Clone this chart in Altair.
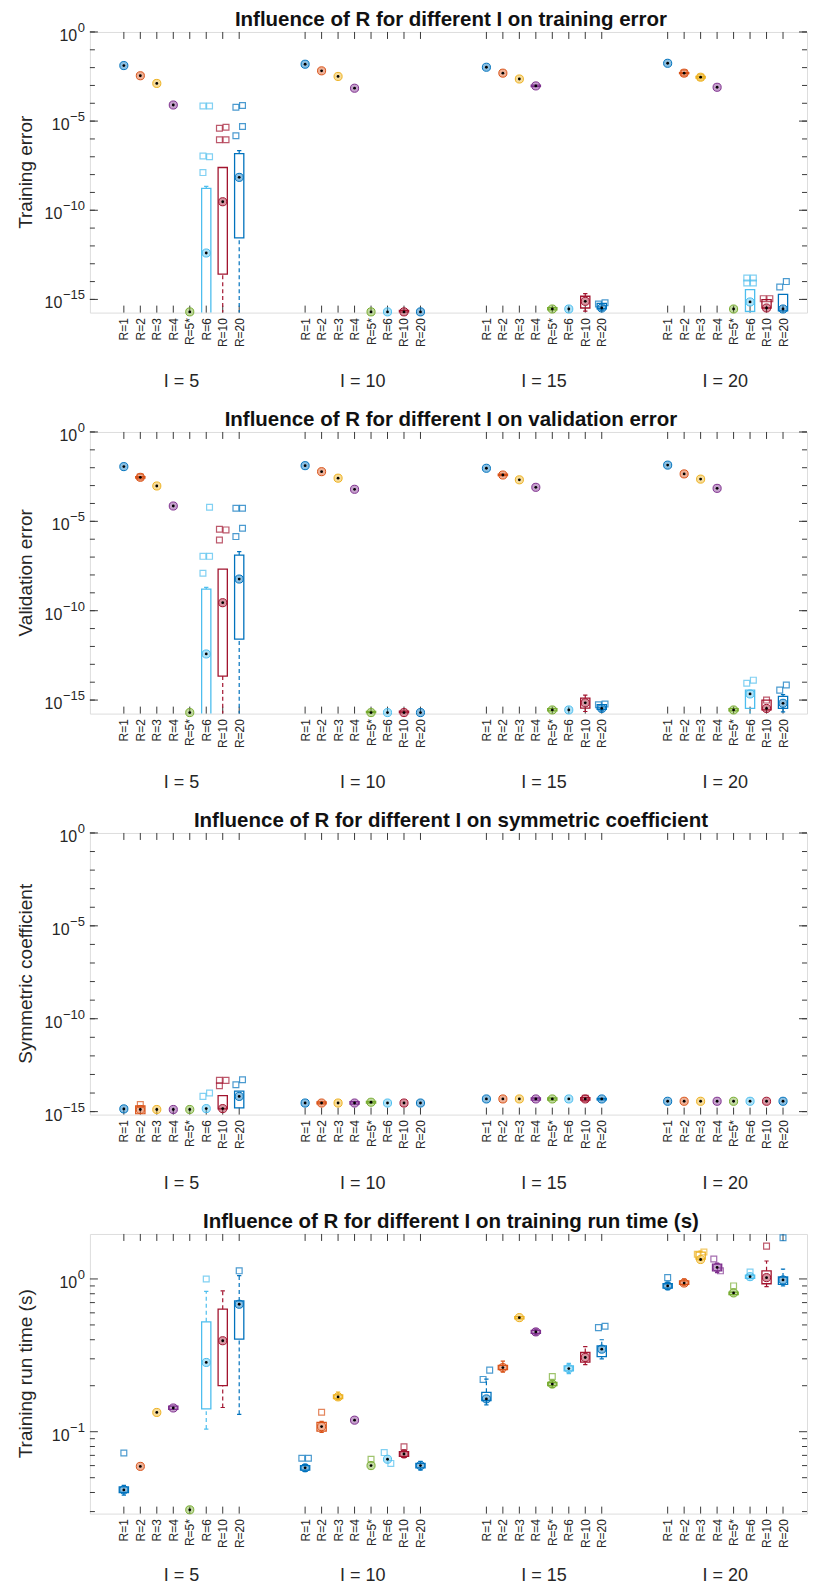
import math
import altair as alt
import pandas as pd

FONT = "Liberation Sans"
TXT = "#262626"
AX = "#3a3a3a"

R_LABELS = ["R=1", "R=2", "R=3", "R=4", "R=5*", "R=6", "R=10", "R=20"]
I_LABELS = ["I = 5", "I = 10", "I = 15", "I = 20"]
COLORS = ["#0072BD", "#D95319", "#EDB120", "#7E2F8E", "#77AC30", "#4DBEEE", "#A2142F", "#0072BD"]
GROUP_STEP = 11

# ---------------- training error ----------------
TRAIN_MED = [
    [1.3e-2, 3.5e-3, 1.3e-3, 8e-5, 2e-16, 4e-13, 3e-10, 7e-9],
    [1.55e-2, 6.6e-3, 3.2e-3, 7e-4, 2e-16, 2e-16, 2e-16, 2e-16],
    [1.05e-2, 4.9e-3, 2.3e-3, 9.4e-4, 2.9e-16, 2.9e-16, 7.8e-16, 3.3e-16],
    [1.75e-2, 4.9e-3, 2.9e-3, 7.9e-4, 2.9e-16, 7.2e-16, 3.3e-16, 2.9e-16],
]
TRAIN_BOX = [  # (group, R index, q1, q3, lower whisker, upper whisker)
    (0, 5, 1e-17, 1.7e-9, 1e-17, 2.2e-9),
    (0, 6, 2.6e-14, 2.5e-8, 1e-17, 2.5e-8),
    (0, 7, 2.8e-12, 1.5e-7, 1e-17, 2.2e-7),
    (1, 6, 1.9e-16, 2.4e-16),
    (2, 3, 8.5e-4, 1.05e-3),
    (2, 4, 2.6e-16, 3.4e-16),
    (2, 6, 3.3e-16, 1.5e-15, 2.2e-16, 2.1e-15),
    (2, 7, 3.0e-16, 6e-16, 2.5e-16, 6e-16),
    (3, 1, 4.6e-3, 5.2e-3),
    (3, 2, 2.6e-3, 3.2e-3),
    (3, 5, 2.1e-16, 3.5e-15, 1e-17, 3.5e-15),
    (3, 6, 3.3e-16, 9.8e-16),
    (3, 7, 2.3e-16, 1.9e-15),
]
TRAIN_OUT = [
    (0, 5, [1.3e-8, 1e-7, 1.1e-7, 7e-5, 7e-5]),
    (0, 6, [9e-7, 9e-7, 4e-6, 4.5e-6]),
    (0, 7, [1.5e-6, 5e-6, 6e-5, 7.5e-5]),
    (2, 7, [5.5e-16, 6.5e-16]),
    (3, 1, [5.0e-3]),
    (3, 2, [2.9e-3]),
    (3, 5, [8.3e-15, 8.3e-15, 1.6e-14, 1.6e-14]),
    (3, 6, [1.1e-15, 1.1e-15]),
    (3, 7, [5e-15, 1e-14]),
]

# ---------------- validation error ----------------
VALID_MED = [
    [1.15e-2, 2.9e-3, 9.5e-4, 7.2e-5, 2e-16, 3.8e-13, 2.8e-10, 5.9e-9],
    [1.3e-2, 6e-3, 2.6e-3, 6.2e-4, 2e-16, 2e-16, 2e-16, 2e-16],
    [9.3e-3, 3.9e-3, 2.1e-3, 8e-4, 2.8e-16, 2.8e-16, 7e-16, 3.4e-16],
    [1.4e-2, 4.5e-3, 2.3e-3, 7e-4, 2.8e-16, 2.2e-15, 3.4e-16, 6.6e-16],
]
VALID_BOX = [
    (0, 1, 2.6e-3, 3.2e-3),
    (0, 5, 1e-17, 1.6e-9, 1e-17, 2e-9),
    (0, 6, 2.2e-14, 2.1e-8, 1e-17, 2.1e-8),
    (0, 7, 2.6e-12, 1.3e-7, 1e-17, 2e-7),
    (1, 4, 1.9e-16, 2.3e-16),
    (1, 6, 1.9e-16, 2.4e-16),
    (2, 1, 3.6e-3, 4.3e-3),
    (2, 4, 2.5e-16, 3.3e-16),
    (2, 6, 3.5e-16, 1.3e-15, 2.3e-16, 1.9e-15),
    (2, 7, 3e-16, 5.5e-16, 2.5e-16, 5.5e-16),
    (3, 4, 2.5e-16, 3.3e-16),
    (3, 5, 3.4e-16, 3.6e-15, 1e-17, 3.6e-15),
    (3, 6, 2.8e-16, 1e-15),
    (3, 7, 3.4e-16, 1.6e-15, 2.2e-16, 2e-15),
]
VALID_OUT = [
    (0, 1, [3.0e-3]),
    (0, 5, [1.25e-8, 1.1e-7, 1.1e-7, 6.1e-5]),
    (0, 6, [9e-7, 3.3e-6, 3.6e-6]),
    (0, 7, [1.4e-6, 4.1e-6, 5.4e-5, 5.4e-5]),
    (2, 7, [5.5e-16, 6e-16]),
    (3, 5, [8.7e-15, 1.3e-14]),
    (3, 6, [1e-15]),
    (3, 7, [3.6e-15, 7e-15]),
]

# ---------------- symmetric coefficient ----------------
SYM_MED = [
    [1.4e-15, 1.3e-15, 1.3e-15, 1.3e-15, 1.3e-15, 1.45e-15, 1.45e-15, 6.6e-15],
    [2.9e-15, 2.9e-15, 2.9e-15, 2.9e-15, 3.2e-15, 2.9e-15, 2.9e-15, 2.9e-15],
    [4.8e-15, 4.8e-15, 4.8e-15, 4.8e-15, 4.8e-15, 4.8e-15, 4.8e-15, 4.8e-15],
    [3.6e-15, 3.6e-15, 3.6e-15, 3.6e-15, 3.6e-15, 3.6e-15, 3.6e-15, 3.6e-15],
]
SYM_BOX = [
    (0, 1, 7.5e-16, 2e-15),
    (0, 6, 1.4e-15, 7.2e-15),
    (0, 7, 1.6e-15, 1.26e-14),
    (1, 1, 2.6e-15, 3.3e-15),
    (1, 3, 2.5e-15, 3.4e-15),
    (1, 4, 2.9e-15, 3.6e-15),
    (2, 3, 4.2e-15, 5.4e-15),
    (2, 4, 4.2e-15, 5.4e-15),
    (2, 6, 4.2e-15, 5.6e-15),
    (2, 7, 4.3e-15, 5.2e-15),
]
SYM_OUT = [
    (0, 1, [2.4e-15]),
    (0, 5, [6.6e-15, 1e-14]),
    (0, 6, [2.5e-14, 4.8e-14, 4.8e-14]),
    (0, 7, [2.8e-14, 5.2e-14]),
    (2, 6, [5.2e-15]),
]

# ---------------- training run time ----------------
TIME_MED = [
    [0.0416, 0.0593, 0.1337, 0.143, 0.0308, 0.284, 0.394, 0.683],
    [0.058, 0.108, 0.169, 0.119, 0.060, 0.066, 0.0715, 0.060],
    [0.164, 0.263, 0.558, 0.45, 0.205, 0.259, 0.306, 0.347],
    [0.90, 0.94, 1.34, 1.19, 0.81, 1.035, 1.02, 0.985],
]
TIME_BOX = [
    (0, 0, 0.0400, 0.0435, 0.0385, 0.0445),
    (0, 3, 0.140, 0.147),
    (0, 5, 0.141, 0.524, 0.104, 0.83),
    (0, 6, 0.2, 0.634, 0.144, 0.835),
    (0, 7, 0.404, 0.718, 0.13, 1.05),
    (1, 0, 0.056, 0.060, 0.055, 0.061),
    (1, 1, 0.101, 0.115, 0.099, 0.117),
    (1, 2, 0.165, 0.174, 0.162, 0.182),
    (1, 6, 0.069, 0.074, 0.068, 0.075),
    (1, 7, 0.058, 0.062, 0.056, 0.064),
    (2, 0, 0.160, 0.181, 0.150, 0.221),
    (2, 1, 0.255, 0.272, 0.245, 0.290),
    (2, 2, 0.548, 0.566),
    (2, 3, 0.44, 0.46, 0.43, 0.47),
    (2, 4, 0.2, 0.21, 0.195, 0.215),
    (2, 5, 0.25, 0.27, 0.24, 0.28),
    (2, 6, 0.285, 0.33, 0.275, 0.36),
    (2, 7, 0.31, 0.365, 0.30, 0.40),
    (3, 0, 0.87, 0.93, 0.85, 0.95),
    (3, 1, 0.92, 0.97, 0.91, 1.0),
    (3, 2, 1.35, 1.5, 1.32, 1.52),
    (3, 3, 1.13, 1.25, 1.1, 1.27),
    (3, 4, 0.79, 0.82),
    (3, 5, 1.01, 1.06),
    (3, 6, 0.93, 1.13, 0.89, 1.31),
    (3, 7, 0.92, 1.03, 0.9, 1.16),
]
TIME_OUT = [
    (0, 0, [0.0726]),
    (0, 5, [1.0]),
    (0, 7, [1.13]),
    (1, 0, [0.067, 0.067]),
    (1, 1, [0.134]),
    (1, 4, [0.066]),
    (1, 5, [0.073, 0.062]),
    (1, 6, [0.0797]),
    (2, 0, [0.22, 0.253]),
    (2, 4, [0.23]),
    (2, 7, [0.48, 0.49]),
    (3, 0, [1.02]),
    (3, 2, [1.45, 1.5]),
    (3, 3, [1.35, 1.13]),
    (3, 4, [0.90]),
    (3, 5, [1.11]),
    (3, 6, [1.64]),
    (3, 7, [1.86]),
]

DECADES_15 = [10.0 ** (-k) for k in range(16)]
MINOR_TIME = [0.03, 0.04, 0.05, 0.06, 0.07, 0.08, 0.09, 0.2, 0.3, 0.4, 0.5, 0.6, 0.7, 0.8, 0.9]

W = 718
PX_PER_UNIT = 16.5
X_DOMAIN = [-2.06, -2.06 + W / PX_PER_UNIT]
EXP_FS = 13
BASE_FS = 16
LEFT_EXT = 81      # room left of each plot (labels + axis title)
TOP_EXT = 22       # room above each plot (title)


def exp_text(v):
    e = int(round(math.log10(v)))
    return "0" if e == 0 else "\u2212" + str(-e)


def exp_width(s):
    return sum((0.584 if c == "\u2212" else 0.556) * EXP_FS for c in s)


def build(title, ytitle, med, boxes, outl, ydom, majors, minors, h, glab_off, bot_ext):
    cscale = alt.Scale(domain=R_LABELS, range=COLORS)
    med_rows = [dict(pos=g * GROUP_STEP + r, R=R_LABELS[r], v=med[g][r]) for g in range(4) for r in range(8)]
    box_rows = []
    for b in boxes:
        g, r, q1, q3 = b[:4]
        lo, hi = (b[4], b[5]) if len(b) > 4 else (q1, q3)
        box_rows.append(dict(pos=g * GROUP_STEP + r, R=R_LABELS[r], q1=q1, q3=q3, lo=lo, hi=hi))
    out_rows = []
    for g, r, vals in outl:
        n = len(vals)
        for k, v in enumerate(vals):
            off = 0 if n == 1 else (-0.2 if k % 2 == 0 else 0.2)
            out_rows.append(dict(pos=g * GROUP_STEP + r + off, R=R_LABELS[r], v=v))
    xt = [g * GROUP_STEP + r for g in range(4) for r in range(8)]
    grp = pd.DataFrame({"pos": [g * GROUP_STEP + 3.5 for g in range(4)], "lab": I_LABELS})

    lab_arr = "[" + ",".join("'%s'" % s for s in R_LABELS) + "]"
    xaxis = alt.Axis(values=xt, labelExpr="%s[datum.value %% %d]" % (lab_arr, GROUP_STEP),
                     labelAngle=-90, ticks=False, domain=False, grid=False, labelFontSize=12,
                     labelPadding=5, labelColor=TXT, labelFont=FONT, labelFlush=False,
                     labelOverlap=False)
    xs = alt.Scale(domain=X_DOMAIN, nice=False, zero=False)
    ys = alt.Scale(type="log", domain=ydom, nice=False)

    def X(f):
        return alt.X(f, type="quantitative", scale=xs, axis=xaxis, title=None)

    def Y(f):
        return alt.Y(f, type="quantitative", scale=ys, axis=None)

    col = alt.Color("R:N", scale=cscale, legend=None)

    # white frame that fixes the panel's outer extent
    fr = pd.DataFrame({"a": [0]})
    frame_top = alt.Chart(fr).mark_rule(color="white", strokeWidth=0.5).encode(
        x=alt.value(-LEFT_EXT), x2=alt.value(W - 1), y=alt.value(-TOP_EXT))
    frame_bot = alt.Chart(fr).mark_rule(color="white", strokeWidth=0.5).encode(
        x=alt.value(-LEFT_EXT), x2=alt.value(W - 1), y=alt.value(h + bot_ext))

    bdf = pd.DataFrame(box_rows)
    base_b = alt.Chart(bdf).transform_calculate(
        bl="datum.pos - 0.28", br="datum.pos + 0.28", cl="datum.pos - 0.13", cr="datum.pos + 0.13")

    lower = base_b.transform_filter("datum.lo < datum.q1").mark_rule(
        strokeDash=[4, 3], strokeWidth=1.2, clip=True).encode(x=X("pos"), y=Y("lo"), y2="q1", color=col)
    upper = base_b.transform_filter("datum.hi > datum.q3").mark_rule(
        strokeDash=[4, 3], strokeWidth=1.2, clip=True).encode(x=X("pos"), y=Y("q3"), y2="hi", color=col)
    cap_lo = base_b.transform_filter("datum.lo < datum.q1").mark_rule(strokeWidth=1.2, clip=True).encode(
        x=X("cl"), x2="cr", y=Y("lo"), color=col)
    cap_hi = base_b.transform_filter("datum.hi > datum.q3").mark_rule(strokeWidth=1.2, clip=True).encode(
        x=X("cl"), x2="cr", y=Y("hi"), color=col)
    box = base_b.transform_filter("datum.q3 > datum.q1").mark_rect(
        fillOpacity=0, strokeWidth=1.3, clip=True).encode(
        x=X("bl"), x2="br", y=Y("q1"), y2="q3", stroke=alt.Stroke("R:N", scale=cscale, legend=None))

    out = alt.Chart(pd.DataFrame(out_rows)).mark_point(
        shape="square", filled=False, size=34, strokeWidth=1.2).encode(x=X("pos"), y=Y("v"), color=col)

    mdf = pd.DataFrame(med_rows)
    circ = alt.Chart(mdf).mark_circle(size=66, fillOpacity=0.45, strokeWidth=1, opacity=1).encode(
        x=X("pos"), y=Y("v"), fill=alt.Fill("R:N", scale=cscale, legend=None),
        stroke=alt.Stroke("R:N", scale=cscale, legend=None))
    dot = alt.Chart(mdf).mark_circle(size=8, color="black", opacity=1).encode(x=X("pos"), y=Y("v"))

    tdf = pd.DataFrame({"pos": xt})
    ttop = alt.Chart(tdf).mark_rule(color=AX, strokeWidth=1).encode(x=X("pos"), y=alt.value(0), y2=alt.value(7))
    tbot = alt.Chart(tdf).mark_rule(color=AX, strokeWidth=1).encode(x=X("pos"), y=alt.value(h), y2=alt.value(h - 7))
    majdf = pd.DataFrame({"v": majors})
    mindf = pd.DataFrame({"v": minors})
    lmaj = alt.Chart(majdf).mark_rule(color=AX).encode(y=Y("v"), x=alt.value(0), x2=alt.value(8))
    rmaj = alt.Chart(majdf).mark_rule(color=AX).encode(y=Y("v"), x=alt.value(W), x2=alt.value(W - 8))
    lmin = alt.Chart(mindf).mark_rule(color=AX).encode(y=Y("v"), x=alt.value(0), x2=alt.value(5))
    rmin = alt.Chart(mindf).mark_rule(color=AX).encode(y=Y("v"), x=alt.value(W), x2=alt.value(W - 5))

    # y tick labels "10" with raised exponents
    ylabs = []
    for v in majors:
        et = exp_text(v)
        d = pd.DataFrame({"v": [v], "b": ["10"], "e": [et]})
        ylabs.append(alt.Chart(d).mark_text(align="right", baseline="middle", fontSize=BASE_FS, dy=4,
                                            font=FONT, color=TXT).encode(
            y=Y("v"), x=alt.value(-5 - exp_width(et) - 0.5), text="b:N"))
        ylabs.append(alt.Chart(d).mark_text(align="right", baseline="middle", fontSize=EXP_FS, dy=-4,
                                            font=FONT, color=TXT).encode(
            y=Y("v"), x=alt.value(-5), text="e:N"))

    glab = alt.Chart(grp).mark_text(fontSize=18, font=FONT, color=TXT, baseline="middle").encode(
        x=X("pos"), y=alt.value(h + glab_off), text="lab:N")

    tdat = pd.DataFrame({"t": [title], "yt": [ytitle]})
    ttl = alt.Chart(tdat).mark_text(fontSize=20.5, fontWeight="bold", font=FONT, color="#111111",
                                    align="center", baseline="middle").encode(
        x=alt.value((W + 5) / 2), y=alt.value(-12), text="t:N")
    yttl = alt.Chart(tdat).mark_text(fontSize=19, font=FONT, color=TXT, angle=270,
                                     align="center", baseline="middle").encode(
        x=alt.value(-64), y=alt.value(h / 2), text="yt:N")

    layers = [frame_top, frame_bot, ttop, tbot, lmaj, rmaj, lmin, rmin, lower, upper, cap_lo, cap_hi,
              box, out, circ, dot, glab, ttl, yttl] + ylabs
    return alt.layer(*layers).properties(width=W, height=h)


p1 = build("Influence of R for different I on training error", "Training error",
           TRAIN_MED, TRAIN_BOX, TRAIN_OUT, [1.82e-16, 1.0], [1.0, 1e-5, 1e-10, 1e-15], DECADES_15, 281, 69, 78)
p2 = build("Influence of R for different I on validation error", "Validation error",
           VALID_MED, VALID_BOX, VALID_OUT, [1.75e-16, 1.0], [1.0, 1e-5, 1e-10, 1e-15], DECADES_15, 282, 69, 78)
p3 = build("Influence of R for different I on symmetric coefficient", "Symmetric coefficient",
           SYM_MED, SYM_BOX, SYM_OUT, [6.9e-16, 1.0], [1.0, 1e-5, 1e-10, 1e-15], DECADES_15, 282, 69, 78)
p4 = build("Influence of R for different I on training run time (s)", "Training run time (s)",
           TIME_MED, TIME_BOX, TIME_OUT, [0.0291, 1.97], [1.0, 0.1], MINOR_TIME, 280, 62, 71)

chart = alt.vconcat(p1, p2, p3, p4, spacing=17.5).properties(
    padding={"left": 0, "top": 0, "right": 0, "bottom": 0}
).configure_view(stroke=AX, strokeWidth=1).configure(font=FONT)

chart.save("out.html", embed_options={"renderer": "svg", "actions": False})
